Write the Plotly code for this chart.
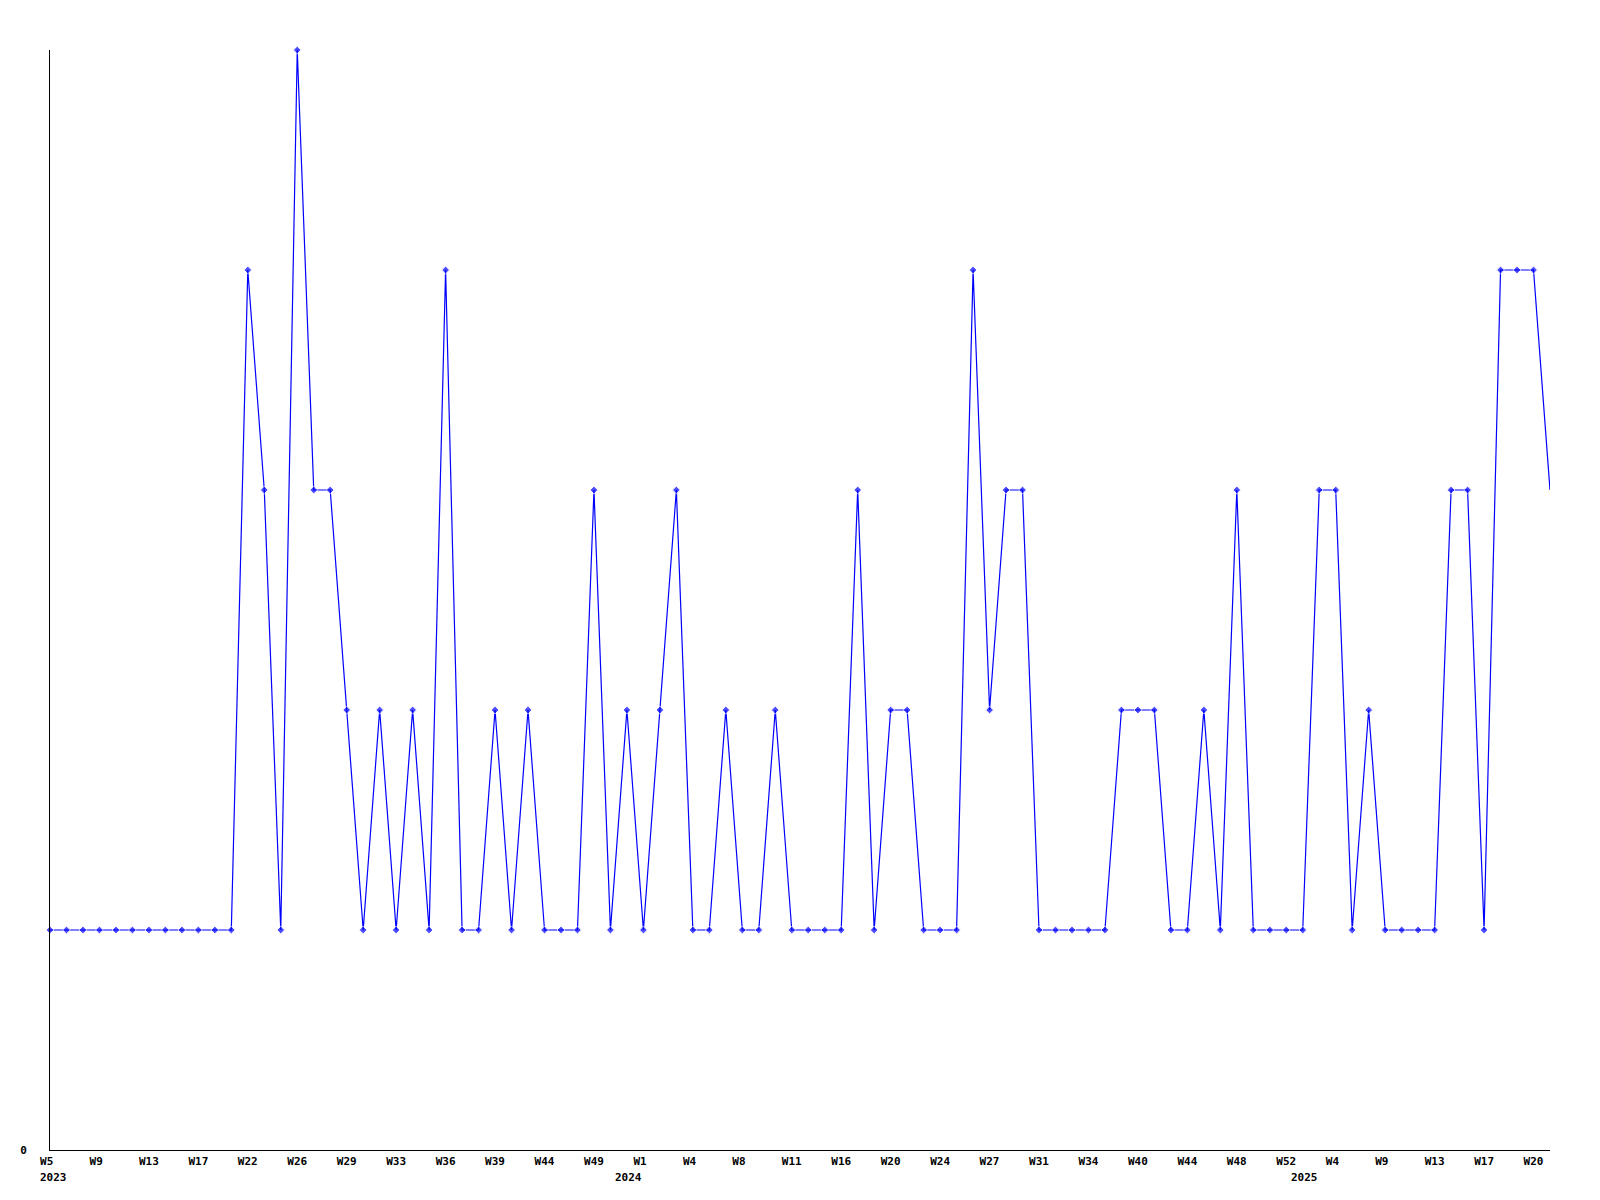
import plotly.graph_objects as go

# ---- data ----
values = [
    1, 1, 1, 1, 1, 1, 1, 1, 1, 1, 1, 1,
    4, 3, 1, 5, 3, 3, 2, 1, 2, 1, 2, 1,
    4, 1, 1, 2, 1, 2, 1, 1, 1, 3, 1, 2,
    1, 2, 3, 1, 1, 2, 1, 1, 2, 1, 1, 1,
    1, 3, 1, 2, 2, 1, 1, 1, 4, 2, 3, 3,
    1, 1, 1, 1, 1, 2, 2, 2, 1, 1, 2, 1,
    3, 1, 1, 1, 1, 3, 3, 1, 2, 1, 1, 1,
    1, 3, 3, 1, 4, 4, 4, 3,
]

week_labels = [
    "W5", "W9", "W13", "W17", "W22", "W26", "W29", "W33", "W36", "W39", "W44",
    "W49", "W1", "W4", "W8", "W11", "W16", "W20", "W24", "W27", "W31", "W34",
    "W40", "W44", "W48", "W52", "W4", "W9", "W13", "W17", "W20",
]
label_step = 3  # one week label every third point

year_labels = ["2023", "2024", "2025"]

# ---- build figure ----
n = len(values)
x = list(range(n))
tickvals = [i * label_step for i in range(len(week_labels))]
# the reference centres every label in a three-character cell
ticktext = [w.ljust(3, "\u00a0") for w in week_labels]

FONT = dict(family="DejaVu Sans Mono", size=11, color="black", weight="bold")

marker_sizes = [6] * (n - 1) + [0]

fig = go.Figure()
fig.add_trace(go.Scatter(
    x=x, y=values, mode="lines+markers",
    line=dict(color="#0000ff", width=1.2),
    marker=dict(symbol="diamond", size=marker_sizes, color="#0000ff"),
    cliponaxis=False,
    showlegend=False, hoverinfo="skip",
))

fig.update_layout(
    width=1592, height=1192,
    margin=dict(l=42, r=50, t=42, b=50, autoexpand=False),
    paper_bgcolor="white", plot_bgcolor="white",
    font=FONT,
    xaxis=dict(
        range=[0, n - 1], showgrid=False, zeroline=False,
        showline=True, linecolor="black", linewidth=1,
        ticks="", tickmode="array", tickvals=tickvals, ticktext=ticktext,
        tickfont=FONT, tickangle=0, ticklabelstandoff=1,
    ),
    yaxis=dict(
        range=[0, 5], showgrid=False, zeroline=False,
        showline=True, linecolor="black", linewidth=1,
        ticks="", tickmode="array", tickvals=[0], ticktext=["0"],
        tickfont=FONT, ticklabelstandoff=20,
    ),
)

# year labels positioned under the first week label of each year (layout positions)
year_x = [0.2, 35.1, 76.1]
for txt, xp in zip(year_labels, year_x):
    fig.add_annotation(
        x=xp, y=0, xref="x", yref="paper", text=txt, showarrow=False,
        xanchor="center", yanchor="top", yshift=-19, font=FONT,
    )

fig.write_html("out.html")
